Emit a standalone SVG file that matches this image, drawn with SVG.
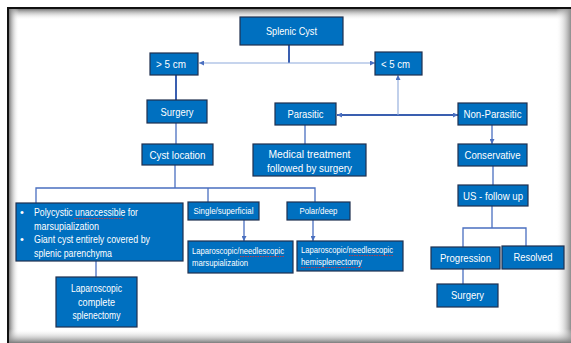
<svg xmlns="http://www.w3.org/2000/svg" width="571" height="343" viewBox="0 0 571 343">
<defs>
<linearGradient id="gTop" x1="0" y1="0" x2="0" y2="1"><stop offset="0" stop-color="#7a7a7a"/><stop offset="1" stop-color="#ffffff" stop-opacity="0"/></linearGradient>
<linearGradient id="gLeft" x1="0" y1="0" x2="1" y2="0"><stop offset="0" stop-color="#7a7a7a"/><stop offset="1" stop-color="#ffffff" stop-opacity="0"/></linearGradient>
<linearGradient id="gRight" x1="0" y1="0" x2="1" y2="0"><stop offset="0" stop-color="#ffffff" stop-opacity="0"/><stop offset="1" stop-color="#8c8c8c"/></linearGradient>
<linearGradient id="gBottom" x1="0" y1="0" x2="0" y2="1"><stop offset="0" stop-color="#ffffff" stop-opacity="0"/><stop offset="1" stop-color="#7c7c7c"/></linearGradient>
<marker id="arr" viewBox="0 0 6 6" refX="6" refY="3" markerWidth="5" markerHeight="5" markerUnits="userSpaceOnUse" orient="auto">
<path d="M0,0 L6,3 L0,6 z" fill="#4a6fc0"/>
</marker>
</defs>
<style>
.box{fill:#0070c0;stroke:#1f2f4f;stroke-width:1.2}
.t{fill:#ffffff;font-family:"Liberation Sans",Arial,sans-serif;font-size:11px}
.s{fill:#ffffff;font-family:"Liberation Sans",Arial,sans-serif;font-size:9px}
.m{text-anchor:middle}
.c{fill:none;stroke:#4a6fc0;stroke-width:1.3}
.c2{fill:none;stroke:#3a5fb0;stroke-width:2}
.c3{fill:none;stroke:#8ea9db;stroke-width:1.1}
.sp{fill:none;stroke:#e03030;stroke-width:0.8;stroke-dasharray:1.5 1}
</style>
<rect x="0" y="0" width="571" height="343" fill="#ffffff"/>
<g id="frame">
<rect x="9" y="9" width="562" height="11" fill="url(#gTop)"/>
<rect x="9" y="9" width="10" height="334" fill="url(#gLeft)"/>
<rect x="556" y="9" width="15" height="334" fill="url(#gRight)"/>
<rect x="9" y="329" width="562" height="14" fill="url(#gBottom)"/>
<line x1="7" y1="8" x2="571" y2="8" stroke="#111" stroke-width="2"/>
<line x1="8" y1="7" x2="8" y2="343" stroke="#111" stroke-width="2"/>
</g>
<g id="connectors">
<path class="c2" d="M289,45 V63"/>
<path class="c3" d="M289,63 H199" marker-end="url(#arr)"/>
<path class="c3" d="M289,63 H375" marker-end="url(#arr)"/>
<path class="c2" d="M176,75 V100"/>
<path class="c" d="M176,123 V144"/>
<path class="c2" d="M398,115 H337" marker-end="url(#arr)"/>
<path class="c2" d="M398,115 H458" marker-end="url(#arr)"/>
<path class="c3" d="M398,115 V75" marker-end="url(#arr)"/>
<path class="c" d="M305,125 V144"/>
<path class="c" d="M492,125 V144" marker-end="url(#arr)"/>
<path class="c" d="M493,166 V185"/>
<path class="c" d="M175,165 V188"/>
<path class="c" d="M36,203 V188 H315 V202"/>
<path class="c" d="M208,188 V202"/>
<path class="c" d="M96,261 V277"/>
<path class="c" d="M244,220 V241" marker-end="url(#arr)"/>
<path class="c" d="M313,220 V241" marker-end="url(#arr)"/>
<path class="c" d="M492,206 V228"/>
<path class="c" d="M463,247 V228 H526 V246"/>
<path class="c" d="M463,269 V284"/>
</g>
<g id="n-splenic"><rect class="box" x="240" y="17" width="103" height="28"/><text class="t m" x="291.5" y="35" textLength="51" lengthAdjust="spacingAndGlyphs">Splenic Cyst</text></g>
<g id="n-gt5"><rect class="box" x="150" y="53" width="48" height="22"/><text class="t" x="156" y="67.5" textLength="30" lengthAdjust="spacingAndGlyphs">&gt; 5 cm</text></g>
<g id="n-lt5"><rect class="box" x="375" y="52" width="47" height="23"/><text class="t" x="381" y="67.5" textLength="29" lengthAdjust="spacingAndGlyphs">&lt; 5 cm</text></g>
<g id="n-surgery"><rect class="box" x="147" y="100" width="60" height="23"/><text class="t m" x="177" y="116" textLength="33" lengthAdjust="spacingAndGlyphs">Surgery</text></g>
<g id="n-cystloc"><rect class="box" x="142" y="144" width="71" height="21"/><text class="t m" x="177.5" y="159" textLength="56" lengthAdjust="spacingAndGlyphs">Cyst location</text></g>
<g id="n-parasitic"><rect class="box" x="275" y="103" width="61" height="22"/><text class="t m" x="305.5" y="118" textLength="36" lengthAdjust="spacingAndGlyphs">Parasitic</text></g>
<g id="n-nonparasitic"><rect class="box" x="458" y="103" width="69" height="22"/><text class="t m" x="492.5" y="118" textLength="58" lengthAdjust="spacingAndGlyphs">Non-Parasitic</text></g>
<g id="n-medical"><rect class="box" x="253" y="144" width="113" height="32"/><text class="t m" x="309.5" y="158" textLength="82" lengthAdjust="spacingAndGlyphs">Medical treatment</text><text class="t m" x="309.5" y="172" textLength="85" lengthAdjust="spacingAndGlyphs">followed by surgery</text></g>
<g id="n-conservative"><rect class="box" x="458" y="144" width="69" height="22"/><text class="t m" x="492.5" y="159" textLength="56" lengthAdjust="spacingAndGlyphs">Conservative</text></g>
<g id="n-us"><rect class="box" x="458" y="185" width="70" height="21"/><text class="t m" x="493" y="200" textLength="60" lengthAdjust="spacingAndGlyphs">US - follow up</text></g>
<g id="n-indications"><rect class="box" x="16" y="203" width="167" height="58"/>
<text class="t" x="20" y="216">•</text><text class="t" x="34" y="216" textLength="104" lengthAdjust="spacingAndGlyphs">Polycystic unaccessible for</text>
<text class="t" x="34" y="229.5" textLength="65" lengthAdjust="spacingAndGlyphs">marsupialization</text>
<text class="t" x="20" y="243">•</text><text class="t" x="34" y="243" textLength="116" lengthAdjust="spacingAndGlyphs">Giant cyst entirely covered by</text>
<text class="t" x="34" y="257" textLength="78" lengthAdjust="spacingAndGlyphs">splenic parenchyma</text>
<path class="sp" d="M74,218.5 H123"/></g>
<g id="n-lapcomplete"><rect class="box" x="56" y="277" width="81" height="50"/><text class="t m" x="96.5" y="292" textLength="51" lengthAdjust="spacingAndGlyphs">Laparoscopic</text><text class="t m" x="96.5" y="306" textLength="37" lengthAdjust="spacingAndGlyphs">complete</text><text class="t m" x="96.5" y="319" textLength="48" lengthAdjust="spacingAndGlyphs">splenectomy</text></g>
<g id="n-single"><rect class="box" x="188" y="202" width="71" height="18"/><text class="s m" x="223.5" y="214" textLength="60" lengthAdjust="spacingAndGlyphs">Single/superficial</text></g>
<g id="n-polar"><rect class="box" x="287" y="202" width="63" height="18"/><text class="s m" x="318.5" y="214" textLength="38" lengthAdjust="spacingAndGlyphs">Polar/deep</text></g>
<g id="n-lapmarsup"><rect class="box" x="188" y="241" width="105" height="32"/><text class="s" x="192" y="254" textLength="92" lengthAdjust="spacingAndGlyphs">Laparoscopic/needlescopic</text><text class="s" x="192" y="266" textLength="56" lengthAdjust="spacingAndGlyphs">marsupialization</text><path class="sp" d="M240,256.5 H284"/></g>
<g id="n-laphemi"><rect class="box" x="297" y="241" width="106" height="30"/><text class="s" x="301" y="253" textLength="92" lengthAdjust="spacingAndGlyphs">Laparoscopic/needlescopic</text><text class="s" x="301" y="265" textLength="61" lengthAdjust="spacingAndGlyphs">hemisplenectomy</text><path class="sp" d="M349,255.5 H393"/><path class="sp" d="M301,267.5 H362"/></g>
<g id="n-progression"><rect class="box" x="431" y="247" width="69" height="22"/><text class="t m" x="465.5" y="262" textLength="51" lengthAdjust="spacingAndGlyphs">Progression</text></g>
<g id="n-resolved"><rect class="box" x="502" y="246" width="62" height="23"/><text class="t m" x="533" y="261" textLength="39" lengthAdjust="spacingAndGlyphs">Resolved</text></g>
<g id="n-surgery2"><rect class="box" x="437" y="284" width="61" height="23"/><text class="t m" x="467.5" y="299" textLength="33" lengthAdjust="spacingAndGlyphs">Surgery</text></g>
</svg>
